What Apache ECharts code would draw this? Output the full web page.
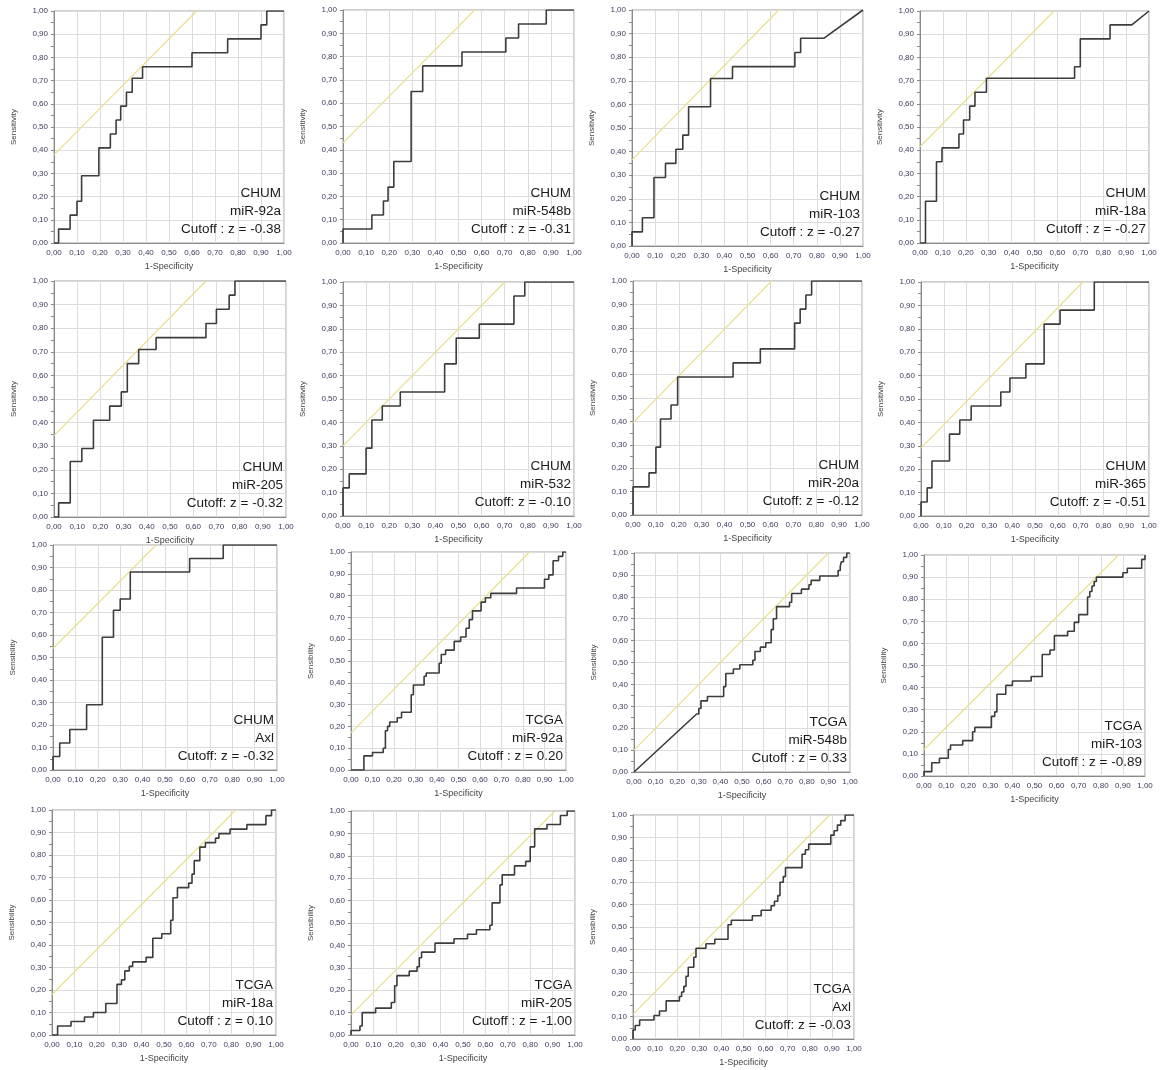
<!DOCTYPE html>
<html>
<head>
<meta charset="utf-8">
<script src="https://cdn.jsdelivr.net/npm/echarts@6/dist/echarts.min.js"></script>
<style>
  html, body { margin: 0; background: #fff; }
  #roc { width: 1167px; height: 1070px; }
</style>
</head>
<body>
<div id="roc"></div>
<script>
// tick labels (comma decimals, as in the original figure)
const tickLabels = ['0,00','0,10','0,20','0,30','0,40','0,50','0,60','0,70','0,80','0,90','1,00'];

const cohorts = ['CHUM','CHUM','CHUM','CHUM','CHUM','CHUM','CHUM','CHUM','CHUM','TCGA','TCGA','TCGA','TCGA','TCGA','TCGA'];
const markers = ['miR-92a','miR-548b','miR-103','miR-18a','miR-205','miR-532','miR-20a','miR-365','Axl',
                 'miR-92a','miR-548b','miR-103','miR-18a','miR-205','Axl'];
const cutoffLabels = ['Cutoff : z = -0.38','Cutoff : z = -0.31','Cutoff : z = -0.27','Cutoff : z = -0.27',
                      'Cutoff: z = -0.32','Cutoff: z = -0.10','Cutoff: z = -0.12','Cutoff: z = -0.51','Cutoff: z = -0.32',
                      'Cutoff : z = 0.20','Cutoff : z = 0.33','Cutoff : z = -0.89','Cutoff : z = 0.10','Cutoff : z = -1.00',
                      'Cutoff: z = -0.03'];
const yNames = ['Sensitivity','Sensitivity','Sensitivity','Sensitivity','Sensitivity','Sensitivity','Sensitivity','Sensitivity',
                'Sensibility','Sensibility','Sensibility','Sensibility','Sensibility','Sensibility','Sensibility'];
// intercept of the slope-1 (yellow) line touching each curve
const tangentIntercepts = [0.38,0.43,0.365,0.415,0.345,0.30,0.395,0.29,0.54,0.17,0.10,0.12,0.18,0.09,0.11];

// ROC points [1-specificity, sensitivity]
const rocChum92a = [[0,0],[0.02,0],[0.02,0.06],[0.07,0.06],[0.07,0.12],[0.10,0.12],[0.10,0.18],[0.12,0.18],[0.12,0.29],
  [0.195,0.29],[0.195,0.41],[0.245,0.41],[0.245,0.47],[0.27,0.47],[0.27,0.53],[0.29,0.53],[0.29,0.59],[0.315,0.59],
  [0.315,0.65],[0.34,0.65],[0.34,0.71],[0.385,0.71],[0.385,0.76],[0.60,0.76],[0.60,0.82],[0.755,0.82],[0.755,0.88],
  [0.90,0.88],[0.90,0.94],[0.925,0.94],[0.925,1],[1,1]];
const rocChum548b = [[0,0],[0,0.06],[0.125,0.06],[0.125,0.12],[0.175,0.12],[0.175,0.18],[0.195,0.18],[0.195,0.24],
  [0.22,0.24],[0.22,0.35],[0.295,0.35],[0.295,0.65],[0.345,0.65],[0.345,0.76],[0.515,0.76],[0.515,0.82],[0.705,0.82],
  [0.705,0.88],[0.76,0.88],[0.76,0.94],[0.88,0.94],[0.88,1],[1,1]];
const rocChum103 = [[0,0],[0,0.06],[0.045,0.06],[0.045,0.12],[0.095,0.12],[0.095,0.29],[0.145,0.29],[0.145,0.35],
  [0.19,0.35],[0.19,0.41],[0.22,0.41],[0.22,0.47],[0.245,0.47],[0.245,0.59],[0.34,0.59],[0.34,0.71],[0.435,0.71],
  [0.435,0.76],[0.705,0.76],[0.705,0.82],[0.73,0.82],[0.73,0.88],[0.83,0.88],[1,1]];
const rocChum18a = [[0,0],[0.024,0],[0.024,0.18],[0.072,0.18],[0.072,0.35],[0.096,0.35],[0.096,0.41],[0.17,0.41],
  [0.17,0.47],[0.19,0.47],[0.19,0.53],[0.217,0.53],[0.217,0.59],[0.24,0.59],[0.24,0.65],[0.29,0.65],[0.29,0.71],
  [0.675,0.71],[0.675,0.76],[0.70,0.76],[0.70,0.88],[0.83,0.88],[0.83,0.94],[0.925,0.94],[1,1]];
const rocChum205 = [[0,0],[0.02,0],[0.02,0.06],[0.07,0.06],[0.07,0.235],[0.12,0.235],[0.12,0.29],[0.17,0.29],
  [0.17,0.41],[0.24,0.41],[0.24,0.47],[0.29,0.47],[0.29,0.53],[0.316,0.53],[0.316,0.65],[0.365,0.65],[0.365,0.71],
  [0.44,0.71],[0.44,0.76],[0.655,0.76],[0.655,0.82],[0.70,0.82],[0.70,0.88],[0.755,0.88],[0.755,0.94],[0.78,0.94],
  [0.78,1],[1,1]];
const rocChum532 = [[0,0],[0,0.12],[0.027,0.12],[0.027,0.18],[0.10,0.18],[0.10,0.29],[0.125,0.29],[0.125,0.41],
  [0.17,0.41],[0.17,0.47],[0.248,0.47],[0.248,0.53],[0.44,0.53],[0.44,0.65],[0.49,0.65],[0.49,0.76],[0.59,0.76],
  [0.59,0.82],[0.74,0.82],[0.74,0.94],[0.787,0.94],[0.787,1],[1,1]];
const rocChum20a = [[0,0],[0,0.12],[0.07,0.12],[0.07,0.18],[0.10,0.18],[0.10,0.29],[0.12,0.29],[0.12,0.41],
  [0.166,0.41],[0.166,0.47],[0.195,0.47],[0.195,0.59],[0.437,0.59],[0.437,0.65],[0.556,0.65],[0.556,0.71],
  [0.706,0.71],[0.706,0.82],[0.73,0.82],[0.73,0.88],[0.755,0.88],[0.755,0.94],[0.78,0.94],[0.78,1],[1,1]];
const rocChum365 = [[0,0],[0,0.06],[0.027,0.06],[0.027,0.12],[0.048,0.12],[0.048,0.235],[0.125,0.235],[0.125,0.35],
  [0.17,0.35],[0.17,0.41],[0.22,0.41],[0.22,0.47],[0.35,0.47],[0.35,0.53],[0.39,0.53],[0.39,0.59],[0.46,0.59],
  [0.46,0.65],[0.54,0.65],[0.54,0.82],[0.61,0.82],[0.61,0.88],[0.76,0.88],[0.76,1],[1,1]];
const rocChumAxl = [[0,0],[0,0.06],[0.03,0.06],[0.03,0.12],[0.075,0.12],[0.075,0.18],[0.15,0.18],[0.15,0.29],
  [0.22,0.29],[0.22,0.59],[0.27,0.59],[0.27,0.71],[0.30,0.71],[0.30,0.76],[0.345,0.76],[0.345,0.88],[0.61,0.88],
  [0.61,0.94],[0.76,0.94],[0.76,1],[1,1]];
const rocTcga92a = [[0,0],[0.06,0],[0.06,0.065],[0.10,0.065],[0.10,0.08],[0.15,0.08],[0.15,0.10],[0.16,0.10],
  [0.16,0.18],[0.17,0.18],[0.17,0.20],[0.18,0.20],[0.18,0.22],[0.215,0.22],[0.215,0.24],[0.235,0.24],[0.235,0.265],
  [0.28,0.265],[0.28,0.345],[0.29,0.345],[0.29,0.39],[0.34,0.39],[0.34,0.43],[0.35,0.43],[0.35,0.445],[0.41,0.445],
  [0.41,0.49],[0.42,0.49],[0.42,0.53],[0.44,0.53],[0.44,0.55],[0.48,0.55],[0.48,0.59],[0.51,0.59],[0.51,0.61],
  [0.535,0.61],[0.535,0.65],[0.55,0.65],[0.55,0.69],[0.565,0.69],[0.565,0.73],[0.605,0.73],[0.605,0.77],[0.625,0.77],
  [0.625,0.79],[0.65,0.79],[0.65,0.81],[0.77,0.81],[0.77,0.835],[0.90,0.835],[0.90,0.875],[0.92,0.875],[0.92,0.895],
  [0.94,0.895],[0.94,0.96],[0.965,0.96],[0.965,0.98],[0.985,0.98],[0.985,1],[1,1]];
const rocTcga548b = [[0,0],[0.29,0.265],[0.30,0.265],[0.30,0.29],[0.31,0.29],[0.31,0.325],[0.34,0.325],[0.34,0.345],
  [0.415,0.345],[0.415,0.39],[0.425,0.39],[0.425,0.45],[0.46,0.45],[0.46,0.47],[0.49,0.47],[0.49,0.49],[0.55,0.49],
  [0.55,0.51],[0.56,0.51],[0.56,0.55],[0.585,0.55],[0.585,0.57],[0.61,0.57],[0.61,0.59],[0.635,0.59],[0.635,0.65],
  [0.645,0.65],[0.645,0.70],[0.66,0.70],[0.66,0.755],[0.72,0.755],[0.72,0.775],[0.73,0.775],[0.73,0.815],[0.775,0.815],
  [0.775,0.835],[0.81,0.835],[0.81,0.855],[0.82,0.855],[0.82,0.875],[0.86,0.875],[0.86,0.895],[0.945,0.895],
  [0.945,0.92],[0.955,0.92],[0.955,0.94],[0.96,0.94],[0.96,0.96],[0.97,0.96],[0.97,0.98],[0.985,0.98],[0.985,1],[1,1]];
const rocTcga103 = [[0,0],[0,0.02],[0.035,0.02],[0.035,0.06],[0.07,0.06],[0.07,0.08],[0.11,0.08],[0.11,0.12],
  [0.12,0.12],[0.12,0.14],[0.175,0.14],[0.175,0.16],[0.22,0.16],[0.22,0.20],[0.23,0.20],[0.23,0.22],[0.305,0.22],
  [0.305,0.27],[0.32,0.27],[0.32,0.29],[0.33,0.29],[0.33,0.37],[0.37,0.37],[0.37,0.41],[0.40,0.41],[0.40,0.43],
  [0.485,0.43],[0.485,0.45],[0.535,0.45],[0.535,0.55],[0.57,0.55],[0.57,0.57],[0.59,0.57],[0.59,0.635],[0.65,0.635],
  [0.65,0.655],[0.68,0.655],[0.68,0.695],[0.70,0.695],[0.70,0.73],[0.74,0.73],[0.74,0.81],[0.75,0.81],[0.75,0.835],
  [0.76,0.835],[0.76,0.86],[0.77,0.86],[0.77,0.88],[0.78,0.88],[0.78,0.90],[0.90,0.90],[0.90,0.92],[0.92,0.92],
  [0.92,0.94],[0.985,0.94],[0.985,0.98],[1,0.98],[1,1]];
const rocTcga18a = [[0,0],[0.025,0],[0.025,0.04],[0.085,0.04],[0.085,0.06],[0.145,0.06],[0.145,0.08],[0.185,0.08],
  [0.185,0.10],[0.24,0.10],[0.24,0.14],[0.29,0.14],[0.29,0.225],[0.31,0.225],[0.31,0.245],[0.325,0.245],[0.325,0.285],
  [0.345,0.285],[0.345,0.305],[0.36,0.305],[0.36,0.325],[0.42,0.325],[0.42,0.345],[0.45,0.345],[0.45,0.43],[0.49,0.43],
  [0.49,0.45],[0.53,0.45],[0.53,0.51],[0.54,0.51],[0.54,0.61],[0.56,0.61],[0.56,0.655],[0.61,0.655],[0.61,0.675],
  [0.625,0.675],[0.625,0.715],[0.635,0.715],[0.635,0.775],[0.66,0.775],[0.66,0.835],[0.685,0.835],[0.685,0.855],
  [0.73,0.855],[0.73,0.875],[0.745,0.875],[0.745,0.895],[0.795,0.895],[0.795,0.915],[0.87,0.915],[0.87,0.935],
  [0.955,0.935],[0.955,0.975],[0.98,0.975],[0.98,1],[1,1]];
const rocTcga205 = [[0,0],[0,0.02],[0.04,0.02],[0.04,0.04],[0.05,0.04],[0.05,0.10],[0.11,0.10],[0.11,0.12],
  [0.18,0.12],[0.18,0.145],[0.195,0.145],[0.195,0.22],[0.205,0.22],[0.205,0.265],[0.26,0.265],[0.26,0.285],
  [0.295,0.285],[0.295,0.305],[0.305,0.305],[0.305,0.345],[0.315,0.345],[0.315,0.37],[0.375,0.37],[0.375,0.41],
  [0.46,0.41],[0.46,0.43],[0.52,0.43],[0.52,0.45],[0.56,0.45],[0.56,0.47],[0.62,0.47],[0.62,0.49],[0.63,0.49],
  [0.63,0.59],[0.665,0.59],[0.665,0.67],[0.675,0.67],[0.675,0.715],[0.73,0.715],[0.73,0.755],[0.78,0.755],
  [0.78,0.775],[0.80,0.775],[0.80,0.84],[0.82,0.84],[0.82,0.92],[0.875,0.92],[0.875,0.94],[0.935,0.94],
  [0.935,0.98],[0.965,0.98],[0.965,1],[1,1]];
const rocTcgaAxl = [[0,0],[0,0.04],[0.01,0.04],[0.01,0.06],[0.03,0.06],[0.03,0.085],[0.095,0.085],[0.095,0.105],
  [0.12,0.105],[0.12,0.125],[0.15,0.125],[0.15,0.17],[0.21,0.17],[0.21,0.19],[0.22,0.19],[0.22,0.21],[0.23,0.21],
  [0.23,0.235],[0.24,0.235],[0.24,0.28],[0.25,0.28],[0.25,0.32],[0.275,0.32],[0.275,0.365],[0.285,0.365],
  [0.285,0.405],[0.33,0.405],[0.33,0.425],[0.37,0.425],[0.37,0.445],[0.43,0.445],[0.43,0.51],[0.445,0.51],
  [0.445,0.53],[0.54,0.53],[0.54,0.55],[0.58,0.55],[0.58,0.575],[0.625,0.575],[0.625,0.595],[0.64,0.595],
  [0.64,0.615],[0.655,0.615],[0.655,0.64],[0.665,0.64],[0.665,0.70],[0.68,0.70],[0.68,0.725],[0.69,0.725],
  [0.69,0.765],[0.765,0.765],[0.765,0.825],[0.78,0.825],[0.78,0.845],[0.795,0.845],[0.795,0.87],[0.895,0.87],
  [0.895,0.91],[0.91,0.91],[0.91,0.93],[0.925,0.93],[0.925,0.955],[0.94,0.955],[0.94,0.975],[0.96,0.975],[0.96,1],[1,1]];

const rocCurves = [rocChum92a, rocChum548b, rocChum103, rocChum18a, rocChum205, rocChum532, rocChum20a, rocChum365,
                   rocChumAxl, rocTcga92a, rocTcga548b, rocTcga103, rocTcga18a, rocTcga205, rocTcgaAxl];

// plot boxes: left, top, width, height (px)
const boxes = [
  [54, 11, 230, 232], [343, 10, 231, 233], [632, 10, 231, 236], [920, 11, 229, 232],
  [54, 281, 232, 236], [343, 282, 231, 234], [633, 281, 229, 234], [921, 282, 228, 234],
  [53, 545, 224, 225], [351, 552, 215, 218], [634, 553, 216, 219], [924, 555, 221, 221],
  [52, 810, 224, 225], [351, 811, 224, 224], [633, 815, 221, 224]
];

const chart = echarts.init(document.getElementById('roc'));
const labelColor = '#3b3b5c';
const fmt = v => tickLabels[Math.round(v * 10)];

const grid = [], xAxis = [], yAxis = [], series = [], graphic = [];
boxes.forEach((b, i) => {
  grid.push({ left: b[0], top: b[1], width: b[2], height: b[3], show: true, borderColor: '#a0a0a0', borderWidth: 1, backgroundColor: '#fff' });
  xAxis.push({
    gridIndex: i, type: 'value', min: 0, max: 1, interval: 0.1,
    name: '1-Specificity', nameLocation: 'middle', nameGap: 19,
    nameTextStyle: { fontSize: 9, color: '#444', fontFamily: 'Liberation Sans' },
    axisLine: { show: true, lineStyle: { color: '#8a8a8a' } },
    axisTick: { show: false },
    axisLabel: { formatter: fmt, fontSize: 8, color: labelColor, margin: 6, fontFamily: 'Liberation Sans' },
    splitLine: { show: true, lineStyle: { color: '#dcdcdc', width: 1 } }
  });
  yAxis.push({
    gridIndex: i, type: 'value', min: 0, max: 1, interval: 0.1,
    name: yNames[i], nameLocation: 'middle', nameGap: 36, nameRotate: 90,
    nameTextStyle: { fontSize: 8, color: '#444', fontFamily: 'Liberation Sans' },
    axisLine: { show: true, lineStyle: { color: '#8a8a8a' } },
    axisTick: { show: true, length: 3, lineStyle: { color: '#8a8a8a' } },
    minorTick: { show: true, splitNumber: 2, length: 3, lineStyle: { color: '#8a8a8a' } },
    axisLabel: { formatter: fmt, fontSize: 8, color: labelColor, margin: 6, fontFamily: 'Liberation Sans' },
    splitLine: { show: true, lineStyle: { color: '#dcdcdc', width: 1 } }
  });
  const c = tangentIntercepts[i];
  series.push({
    type: 'line', xAxisIndex: i, yAxisIndex: i, symbol: 'none', silent: true,
    lineStyle: { color: '#e8e08c', width: 1.2 },
    data: [[0, c], [1 - c, 1]], z: 3
  });
  series.push({
    type: 'line', xAxisIndex: i, yAxisIndex: i, symbol: 'none', silent: true,
    lineStyle: { color: '#3c3c3c', width: 1.6 },
    data: rocCurves[i], z: 4
  });
  graphic.push({
    type: 'text', z: 10,
    x: b[0] + b[2] - 3, y: b[1] + b[3] - 5,
    style: {
      text: cohorts[i] + '\n' + markers[i] + '\n' + cutoffLabels[i],
      align: 'right', verticalAlign: 'bottom', textAlign: 'right', textVerticalAlign: 'bottom',
      fontSize: 13.5, fontFamily: 'Liberation Sans', lineHeight: 18, fill: '#1a1a1a'
    }
  });
});

chart.setOption({ animation: false, backgroundColor: '#fff', grid, xAxis, yAxis, series, graphic });
</script>
</body>
</html>
